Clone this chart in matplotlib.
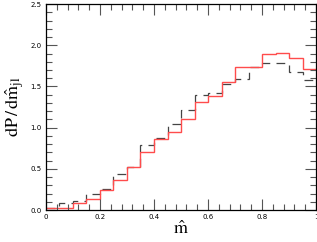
import numpy as np
import matplotlib
matplotlib.use("Agg")
import matplotlib.pyplot as plt
from matplotlib.ticker import MultipleLocator

# bin edges of m-hat histogram (20 bins)
edges = np.linspace(0, 1, 21)

red_vals = [0.02, 0.02, 0.08, 0.13, 0.24, 0.36, 0.52, 0.70, 0.86, 0.95,
            1.10, 1.31, 1.38, 1.55, 1.74, 1.74, 1.89, 1.91, 1.84, 1.71]
black_vals = [0.03, 0.08, 0.11, 0.20, 0.25, 0.44, 0.52, 0.79, 0.88, 1.05,
              1.21, 1.40, 1.42, 1.53, 1.59, 1.74, 1.79, 1.78, 1.68, 1.58]

plt.rcParams['mathtext.fontset'] = 'stix'

fig = plt.figure(figsize=(3.17, 2.42), dpi=100)
ax = fig.add_axes([0.145, 0.132, 0.852, 0.851])

ax.stairs(black_vals, edges, baseline=None, color='#444444', lw=0.9,
          linestyle=(0, (7, 5)))
ax.stairs(red_vals, edges, baseline=None, color='#ff4c4c', lw=1.0)

ax.set_xlim(0, 1)
ax.set_ylim(0, 2.5)
ax.xaxis.set_major_locator(MultipleLocator(0.2))
ax.xaxis.set_minor_locator(MultipleLocator(0.04))
ax.yaxis.set_major_locator(MultipleLocator(0.5))
ax.yaxis.set_minor_locator(MultipleLocator(0.1))
ax.xaxis.set_major_formatter(lambda v, p: '0' if v == 0 else ('1' if abs(v - 1) < 1e-9 else f'{v:.1f}'))
ax.yaxis.set_major_formatter(lambda v, p: f'{v:.1f}')

ax.tick_params(which='both', direction='in', top=True, right=True,
               labelsize=5, width=0.8, color='#555555', pad=3)
ax.tick_params(which='major', length=8)
ax.tick_params(which='minor', length=4)
for s in ax.spines.values():
    s.set_linewidth(0.9)

ax.set_xlabel(r'$\hat{\mathrm{m}}$', fontsize=13, labelpad=0)
ax.set_ylabel(r'$\mathrm{dP\,/\,d}\hat{\mathrm{m}}_{\mathrm{jl}}$', fontsize=13, labelpad=3)

fig.savefig('out.png', dpi=100)
